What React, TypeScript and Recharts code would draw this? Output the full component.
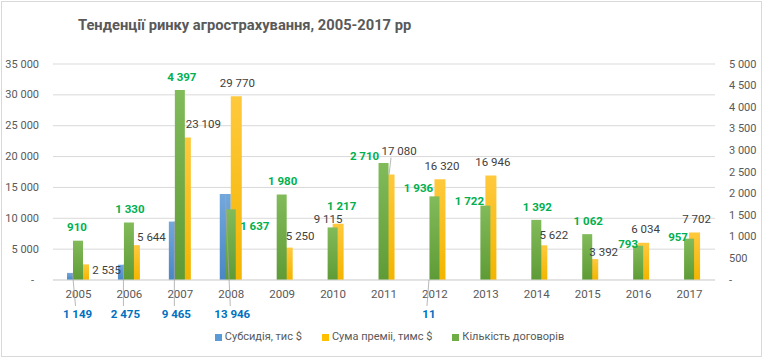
import React from 'react';
import { BarChart, Bar, XAxis, YAxis, CartesianGrid, LabelList } from 'recharts';

const years = ['2005', '2006', '2007', '2008', '2009', '2010', '2011', '2012', '2013', '2014', '2015', '2016', '2017'];
const subsidy: (number | null)[] = [1149, 2475, 9465, 13946, null, null, null, 11, null, null, null, null, null];
const premium = [2535, 5644, 23109, 29770, 5250, 9115, 17080, 16320, 16946, 5622, 3392, 6034, 7702];
const contracts = [910, 1330, 4397, 1637, 1980, 1217, 2710, 1936, 1722, 1392, 1062, 793, 957];
const leftTicks = [0, 5000, 10000, 15000, 20000, 25000, 30000, 35000];
const rightTicks = [0, 500, 1000, 1500, 2000, 2500, 3000, 3500, 4000, 4500, 5000];
const seriesNames = ['Субсидія, тис $', 'Сума преміі, тимс $', 'Кількість договорів'];
const title = 'Тенденції ринку агрострахування, 2005-2017 рр';

// label placement (layout only, relative to bar top centre)
const contractLabelShift = [[-1, -14], [1, -13.5], [2, -13], [24, 17], [1, -13], [9, -21], [-19, -7], [-16, -8], [-16, -5], [1, -13], [1, -13], [-10, -2], [-11, -2]];
const premiumLabelShift = [[23, 6], [17, -8], [18, -13], [1, -13], [13, -12], [-10, -5], [10, -24], [2, -13], [2, -13], [12, -10], [11, -7], [2, -14], [2, -13]];
const subsidyLabelShift = [5, 2, 2, 7, 0, 0, 0, 7, 0, 0, 0, 0, 0];

const data = years.map((y, i) => ({ year: y, subsidy: subsidy[i], premium: premium[i], contracts: contracts[i] }));

const FONT = "Roboto, 'Liberation Sans', sans-serif";
const FS = 11;
const fmt = (n: number) => String(n).replace(/\B(?=(\d{3})+(?!\d))/g, ' ');

const LeftTick = (p: any) => {
  const v = p.payload.value;
  return (
    <text x={p.x - (v === 0 ? 5 : 0)} y={p.y} textAnchor="end" dominantBaseline="central" fill="#595959" fontSize={FS} fontFamily={FONT}>
      {v === 0 ? '-' : fmt(v)}
    </text>
  );
};
const RightTick = (p: any) => {
  const v = p.payload.value;
  return (
    <text x={p.x} y={p.y} textAnchor="start" dominantBaseline="central" fill="#595959" fontSize={FS} fontFamily={FONT}>
      {v === 0 ? '-' : fmt(v)}
    </text>
  );
};
const XTick = (p: any) => (
  <text x={p.x} y={p.y} dy="0.71em" textAnchor="middle" fill="#595959" fontSize={FS + 0.5} fontFamily={FONT}>
    {p.payload.value}
  </text>
);

const ContractLabel = (p: any) => {
  if (p.value == null) return null;
  const i = p.index;
  const cx = Number(p.x) + Number(p.width) / 2;
  const top = Number(p.y);
  const [dx, dy] = contractLabelShift[i];
  return (
    <text x={cx + dx} y={top + dy} textAnchor="middle" dominantBaseline="central" fill="#00B050" fontWeight="bold" fontSize={FS + 0.5} fontFamily={FONT}>
      {fmt(p.value)}
    </text>
  );
};
const PremiumLabel = (p: any) => {
  if (p.value == null) return null;
  const i = p.index;
  const cx = Number(p.x) + Number(p.width) / 2;
  const top = Number(p.y);
  const [dx, dy] = premiumLabelShift[i];
  return (
    <g>
      {i === 6 ? <line x1={cx} y1={top} x2={cx + dx - 8} y2={top + dy + 7} stroke="#A6A6A6" strokeWidth={0.8} /> : null}
      <text x={cx + dx} y={top + dy} textAnchor="middle" dominantBaseline="central" fill="#404040" fontSize={FS + 0.5} fontFamily={FONT}>
        {fmt(p.value)}
      </text>
    </g>
  );
};
const SubsidyLabel = (p: any) => {
  if (p.value == null) return null;
  const i = p.index;
  const cx = Number(p.x) + Number(p.width) / 2;
  const top = Number(p.y);
  const bottom = Number(p.y) + Number(p.height);
  const lx = cx + subsidyLabelShift[i];
  return (
    <g>
      <line x1={cx} y1={top} x2={lx - 2} y2={bottom + 26} stroke="#A6A6A6" strokeWidth={0.8} />
      <text x={lx} y={bottom + 34} textAnchor="middle" dominantBaseline="central" fill="#0070C0" fontWeight="bold" fontSize={FS + 0.5} fontFamily={FONT}>
        {fmt(p.value)}
      </text>
    </g>
  );
};

const legendColors = ['#5B9BD5', '#FFC000', '#70AD47'];

export default function App() {
  return (
    <div style={{ position: 'absolute', left: 0, top: 0, width: 764, height: 360, background: '#fff', fontFamily: FONT }}>
      <div style={{ position: 'absolute', left: 1, top: 1, width: 759, height: 354, border: '1px solid #D9D9D9' }} />
      <div style={{ position: 'absolute', left: 78, top: 16, fontSize: 14.7, fontWeight: 'bold', color: '#595959', whiteSpace: 'nowrap', lineHeight: '18px' }}>
        {title}
      </div>
      <BarChart width={764} height={360} data={data} margin={{ top: 64, right: 0, left: 0, bottom: 50 }} barGap={0}>
        <defs>
          <linearGradient id="gBlue" x1="0" y1="0" x2="0" y2="1">
            <stop offset="0%" stopColor="#72A8DC" />
            <stop offset="100%" stopColor="#4A86C5" />
          </linearGradient>
          <linearGradient id="gYellow" x1="0" y1="0" x2="0" y2="1">
            <stop offset="0%" stopColor="#FFC93D" />
            <stop offset="100%" stopColor="#F3B500" />
          </linearGradient>
          <linearGradient id="gGreen" x1="0" y1="0" x2="0" y2="1">
            <stop offset="0%" stopColor="#82BB5A" />
            <stop offset="100%" stopColor="#5E9B36" />
          </linearGradient>
        </defs>
        <CartesianGrid vertical={false} stroke="#D9D9D9" yAxisId="left" xAxisId="main" />
        <XAxis dataKey="year" xAxisId="cnt" hide height={0} />
        <XAxis dataKey="year" xAxisId="main" tick={<XTick />} tickLine={false} tickSize={0} tickMargin={10} height={30} axisLine={{ stroke: '#D9D9D9' }} interval={0} />
        <YAxis yAxisId="left" domain={[0, 35000]} ticks={leftTicks} width={53} axisLine={false} tickLine={false} tickSize={0} tickMargin={14} tick={<LeftTick />} interval={0} />
        <YAxis yAxisId="right" orientation="right" domain={[0, 5000]} ticks={rightTicks} width={49} axisLine={false} tickLine={false} tickSize={0} tickMargin={14} tick={<RightTick />} interval={0} />
        <Bar dataKey="subsidy" name={seriesNames[0]} xAxisId="main" yAxisId="left" fill="url(#gBlue)" barSize={11} isAnimationActive={false}>
          <LabelList dataKey="subsidy" content={<SubsidyLabel />} />
        </Bar>
        <Bar dataKey="premium" name={seriesNames[1]} xAxisId="main" yAxisId="left" fill="url(#gYellow)" barSize={11} isAnimationActive={false}>
          <LabelList dataKey="premium" content={<PremiumLabel />} />
        </Bar>
        <Bar dataKey="contracts" name={seriesNames[2]} xAxisId="cnt" yAxisId="right" fill="url(#gGreen)" barSize={10} isAnimationActive={false}>
          <LabelList dataKey="contracts" content={<ContractLabel />} />
        </Bar>
      </BarChart>
      <div style={{ position: 'absolute', left: 0, top: 329, width: 764, paddingLeft: 15, boxSizing: 'border-box', display: 'flex', justifyContent: 'center', gap: 20, fontSize: FS, color: '#595959', lineHeight: '16px' }}>
        {seriesNames.map((n, i) => (
          <div key={n} style={{ display: 'flex', alignItems: 'center', whiteSpace: 'nowrap' }}>
            <span style={{ display: 'inline-block', width: 7, height: 7, background: legendColors[i], marginRight: 3 }} />
            {n}
          </div>
        ))}
      </div>
    </div>
  );
}
